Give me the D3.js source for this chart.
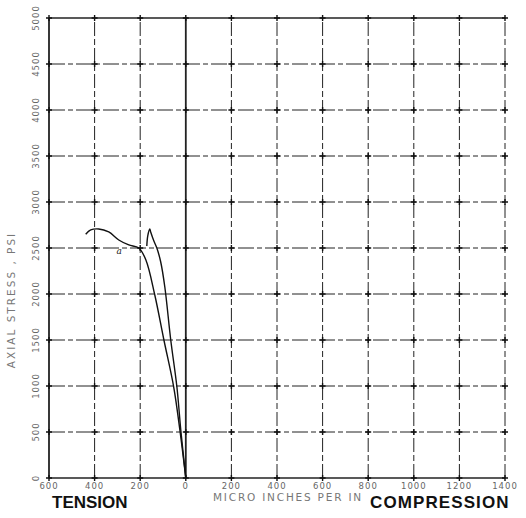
<!DOCTYPE html>
<html><head><meta charset="utf-8">
<script src="https://cdn.jsdelivr.net/npm/d3@7/dist/d3.min.js"></script>
<style>body{margin:0;background:#fff}svg{display:block}</style>
</head><body>
<script>
const xTicks = [-600,-400,-200,0,200,400,600,800,1000,1200,1400];
const xTickLabels = ["600","400","200","0","200","400","600","800","1000","1200","1400"];
const yTicks = [0,500,1000,1500,2000,2500,3000,3500,4000,4500,5000];
const yTickLabels = ["0","500","1000","1500","2000","2500","3000","3500","4000","4500","5000"];
const curve1Strain = [0,-26,-53,-96,-136,-175,-206,-250,-294,-338,-382,-417,-439];
const curve1Stress = [0,522,989,1500,1989,2370,2500,2533,2587,2674,2707,2696,2650];
const curve2Strain = [0,-22,-39,-66,-92,-110,-127,-140,-154,-158,-167,-171];
const curve2Stress = [0,522,989,1500,2076,2348,2500,2576,2674,2707,2630,2522];

const W=526,H=518;
const svg=d3.select("body").append("svg").attr("width",W).attr("height",H);
const x=d3.scaleLinear().domain([-600,1400]).range([49,505]);
const y=d3.scaleLinear().domain([0,5000]).range([478,18]);

// grid
const g=svg.append("g");
g.selectAll("line.v").data(xTicks).join("line")
 .attr("x1",d=>x(d)).attr("x2",d=>x(d)).attr("y1",y(0)).attr("y2",y(5000))
 .attr("stroke","#222").attr("stroke-width",d=>d===0?1.8:(d===-600?1.8:1))
 .attr("stroke-dasharray",d=>(d===0||d===-600)?null:"14,3,6,3");
g.selectAll("line.h").data(yTicks).join("line")
 .attr("x1",x(-600)).attr("x2",x(1400)).attr("y1",d=>y(d)).attr("y2",d=>y(d))
 .attr("stroke","#222").attr("stroke-width",d=>(d===0||d===5000)?1.6:1)
 .attr("stroke-dasharray",d=>(d===0||d===5000)?null:"16,3,5,3");
// cross marks
const pts=[];xTicks.forEach(a=>yTicks.forEach(b=>pts.push([a,b])));
g.selectAll("path.c").data(pts).join("path")
 .attr("d",d=>`M${x(d[0])-3},${y(d[1])}h6M${x(d[0])},${y(d[1])-3}v6`)
 .attr("stroke","#111").attr("stroke-width",1.4);

// axis labels
svg.append("g").selectAll("text").data(xTicks).join("text")
 .attr("x",d=>x(d)).attr("y",489).attr("text-anchor","middle")
 .attr("font-family","DejaVu Sans").attr("font-size",8.5).attr("letter-spacing",1).attr("fill","#666")
 .text((d,i)=>xTickLabels[i]);
svg.append("g").selectAll("text").data(yTicks).join("text")
 .attr("transform",d=>`translate(39,${y(d)}) rotate(-90)`).attr("text-anchor","middle")
 .attr("font-family","DejaVu Sans").attr("font-size",8.5).attr("letter-spacing",1).attr("fill","#666")
 .text((d,i)=>yTickLabels[i]);
svg.append("text").attr("transform","translate(15,300) rotate(-90)").attr("text-anchor","middle")
 .attr("font-family","DejaVu Sans").attr("font-size",10.5).attr("fill","#777").attr("letter-spacing",2)
 .text("AXIAL STRESS , PSI");
svg.append("text").attr("x",288).attr("y",501).attr("text-anchor","middle")
 .attr("font-family","DejaVu Sans").attr("font-size",10.5).attr("fill","#777").attr("letter-spacing",1.8)
 .text("MICRO INCHES PER IN");
svg.append("text").attr("x",52).attr("y",508)
 .attr("font-family","Liberation Sans").attr("font-weight","bold").attr("font-size",17).attr("fill","#111")
 .text("TENSION");
svg.append("text").attr("x",370).attr("y",508)
 .attr("font-family","Liberation Sans").attr("font-weight","bold").attr("font-size",17).attr("letter-spacing",1.1).attr("fill","#111")
 .text("COMPRESSION");

// curves
const line=d3.line().x(d=>x(d[0])).y(d=>y(d[1])).curve(d3.curveCatmullRom);
svg.append("path").datum(curve1Strain.map((s,i)=>[s,curve1Stress[i]]))
 .attr("d",line).attr("fill","none").attr("stroke","#111").attr("stroke-width",1.4);
svg.append("path").datum(curve2Strain.map((s,i)=>[s,curve2Stress[i]]))
 .attr("d",line).attr("fill","none").attr("stroke","#111").attr("stroke-width",1.4);
svg.append("text").attr("x",x(-292)).attr("y",y(2430)).attr("text-anchor","middle")
 .attr("font-family","DejaVu Serif").attr("font-style","italic").attr("font-size",9).attr("fill","#222").text("a");
</script>
</body></html>
